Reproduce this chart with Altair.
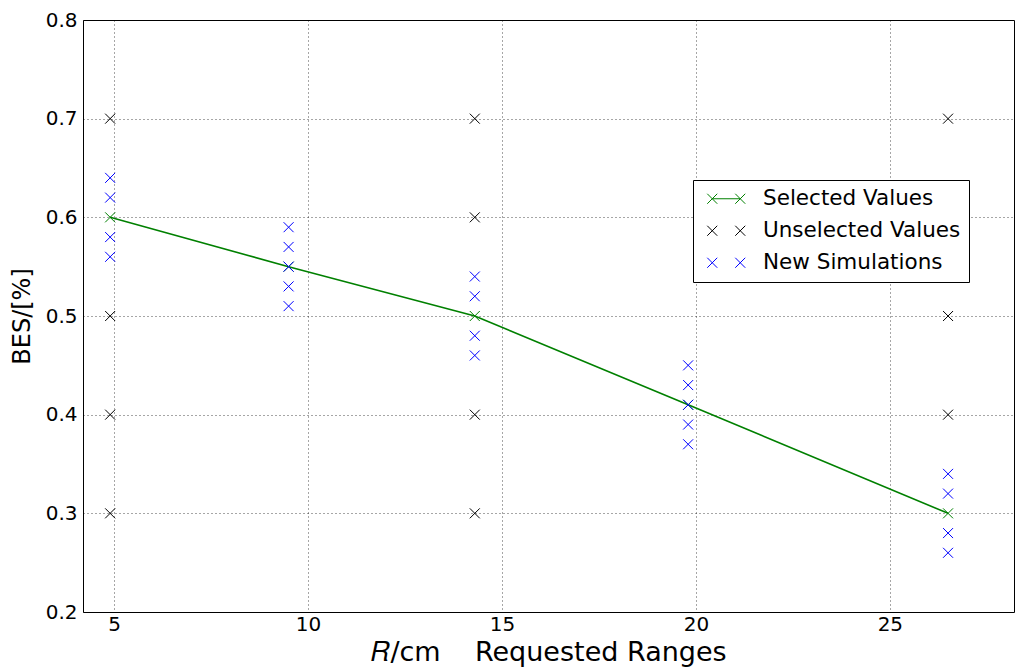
import altair as alt
import pandas as pd

# ---- data ----
sel_x = [4.9, 9.5, 14.3, 19.8, 26.5]
sel_y = [0.60, 0.55, 0.50, 0.41, 0.30]

unsel_x = [4.9, 4.9, 4.9, 4.9, 14.3, 14.3, 14.3, 14.3, 26.5, 26.5, 26.5]
unsel_y = [0.70, 0.50, 0.40, 0.30, 0.70, 0.60, 0.40, 0.30, 0.70, 0.50, 0.40]

new_x = [4.9] * 4 + [9.5] * 5 + [14.3] * 4 + [19.8] * 5 + [26.5] * 4
new_y = [0.64, 0.62, 0.58, 0.56,
         0.59, 0.57, 0.55, 0.53, 0.51,
         0.54, 0.52, 0.48, 0.46,
         0.45, 0.43, 0.41, 0.39, 0.37,
         0.34, 0.32, 0.28, 0.26]

series_names = ["Selected Values", "Unselected Values", "New Simulations"]
series_colors = ["#008000", "#000000", "#0000ff"]
x_ticks = [5, 10, 15, 20, 25]
y_ticks = [0.2, 0.3, 0.4, 0.5, 0.6, 0.7, 0.8]

rows = []
for x, y in zip(sel_x, sel_y):
    rows.append({"x": x, "y": y, "series": series_names[0]})
for x, y in zip(unsel_x, unsel_y):
    rows.append({"x": x, "y": y, "series": series_names[1]})
for x, y in zip(new_x, new_y):
    rows.append({"x": x, "y": y, "series": series_names[2]})
pts = pd.DataFrame(rows)
line_df = pd.DataFrame({"x": sel_x, "y": sel_y})

FONT = "DejaVu Sans"
XPATH = "M-1,-1L1,1M-1,1L1,-1"
SEL_LEG = "M-3.8,-1L-1.8,1M-3.8,1L-1.8,-1M-2.8,0L2.8,0M1.8,-1L3.8,1M1.8,1L3.8,-1"
PAIR_LEG = "M-3.8,-1L-1.8,1M-3.8,1L-1.8,-1M1.8,-1L3.8,1M1.8,1L3.8,-1"

xscale = alt.Scale(domain=[4.2, 28.2], nice=False, zero=False)
yscale = alt.Scale(domain=[0.2, 0.8], nice=False, zero=False)

NB = "\u00a0"
xaxis = alt.Axis(values=x_ticks, title=f"𝑅/cm{NB*4}Requested Ranges",
                 format="d", labelPadding=2, titlePadding=5, titleFontSize=27)
yaxis = alt.Axis(values=y_ticks, title="BES/[%]", format=".1f",
                 labelPadding=6, titlePadding=11, titleFontSize=24)

legend = alt.Legend(
    title=None, orient="none", legendX=610, legendY=160,
    fillColor="white", strokeColor="#000000",
    padding=8, rowPadding=9,
    symbolSize=100, symbolStrokeWidth=1,
    symbolOffset=14.5, labelOffset=26,
    labelFont=FONT, labelFontSize=21.5, labelColor="#000000",
    labelLimit=400,
)
color_enc = alt.Color("series:N",
                      scale=alt.Scale(domain=series_names, range=series_colors),
                      sort=series_names, legend=legend)

line = alt.Chart(line_df).mark_line(color="#008000", strokeWidth=1.6).encode(
    x=alt.X("x:Q", scale=xscale, axis=xaxis),
    y=alt.Y("y:Q", scale=yscale, axis=yaxis),
)

points = alt.Chart(pts).mark_point(shape=XPATH, filled=False, size=100,
                                   strokeWidth=1, opacity=1).encode(
    x=alt.X("x:Q", scale=xscale),
    y=alt.Y("y:Q", scale=yscale),
    color=color_enc,
)

# legend-only layer: draws nothing, supplies the legend symbols
legend_layer = alt.Chart(pts).transform_filter("false").mark_point(
    filled=False, size=100, strokeWidth=1, opacity=1).encode(
    x=alt.X("x:Q", scale=xscale),
    y=alt.Y("y:Q", scale=yscale),
    color=color_enc,
    shape=alt.Shape("series:N",
                    scale=alt.Scale(domain=series_names,
                                    range=[SEL_LEG, PAIR_LEG, PAIR_LEG]),
                    sort=series_names, legend=legend),
)

chart = alt.layer(line, points, legend_layer).properties(
    width=931, height=592,
    autosize=alt.AutoSizeParams(type="none"),
    padding={"left": 83, "top": 20, "right": 2, "bottom": 58},
    background="white",
).configure_view(
    stroke="#000000", strokeWidth=1
).configure_axis(
    labelFont=FONT, labelFontSize=20, labelColor="#000000",
    titleFont=FONT, titleFontWeight="normal", titleColor="#000000",
    grid=True, gridColor="#000000", gridDash=[1, 3], gridWidth=0.7, gridOpacity=1,
    domain=False, ticks=False,
)

chart.save("out.html", embed_options={"renderer": "svg", "actions": False})
